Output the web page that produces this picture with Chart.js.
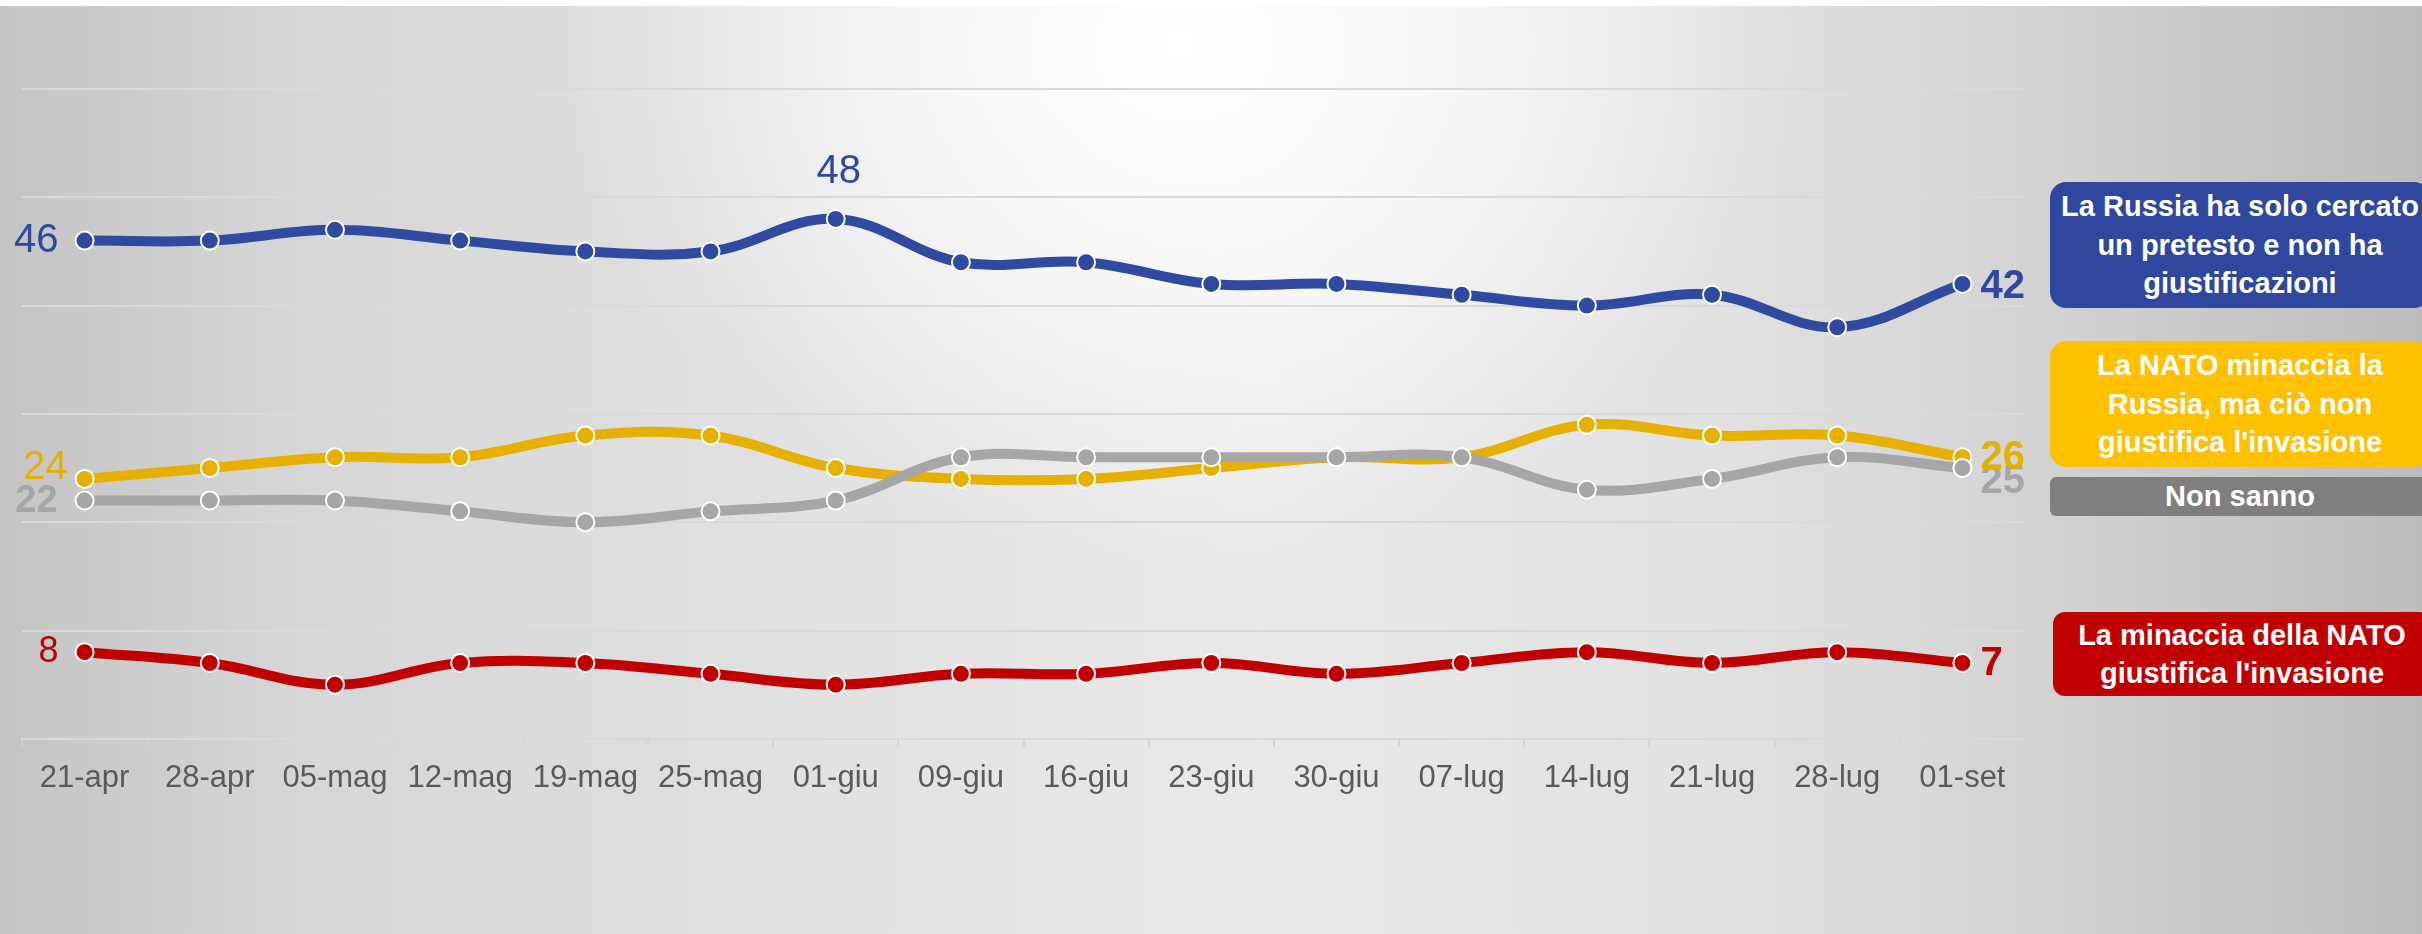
<!DOCTYPE html>
<html lang="it">
<head>
<meta charset="utf-8">
<title>Giustificazione dell'invasione</title>
<script src="https://cdn.jsdelivr.net/npm/chart.js@4.4.1/dist/chart.umd.min.js"></script>
<style>
  html, body { margin: 0; padding: 0; background: #ffffff; overflow: hidden; }
  #sfondo {
    position: absolute; left: 0; top: 6px; width: 2422px; height: 928px;
    background:
      radial-gradient(ellipse 620px 520px at 1180px 40px, rgba(255,255,255,1) 0%, rgba(255,255,255,0.7) 40%, rgba(255,255,255,0) 100%),
      linear-gradient(to right, #c4c4c4 0%, #d6d6d6 12%, #e2e2e2 35%, #e9e9e9 52%, #e2e2e2 70%, #d2d2d2 85%, #bcbcbc 100%);
  }
  #contenitore { position: absolute; left: 0; top: 0; width: 2422px; height: 934px; }
  .legenda {
    position: absolute; left: 2050px; width: 380px;
    display: flex; align-items: center; justify-content: center; text-align: center;
    color: #ffffff; font-family: "Liberation Sans", Arial, sans-serif; font-weight: bold;
    font-size: 29px; line-height: 38.5px; border-radius: 16px;
  }
</style>
</head>
<body>
<div id="sfondo"></div>
<div id="contenitore"><canvas id="grafico"></canvas></div>

<div class="legenda" style="top:182px;height:126px;background:#2f479f;">La Russia ha solo cercato<br>un pretesto e non ha<br>giustificazioni</div>
<div class="legenda" style="top:341px;height:126px;background:#ffc000;">La NATO minaccia la<br>Russia, ma ciò non<br>giustifica l'invasione</div>
<div class="legenda" style="top:477px;height:39px;background:#7f7f7f;border-radius:6px;">Non sanno</div>
<div class="legenda" style="top:612px;height:84px;left:2053px;width:378px;background:#c00000;border-radius:12px;">La minaccia della NATO<br>giustifica l'invasione</div>

<script>
// Date delle rilevazioni
const categorie = ['21-apr', '28-apr', '05-mag', '12-mag', '19-mag', '25-mag', '01-giu', '09-giu',
    '16-giu', '23-giu', '30-giu', '07-lug', '14-lug', '21-lug', '28-lug', '01-set'];

// Valori delle serie (%)
const soloPretesto = [46, 46, 47, 46, 45, 45, 48, 44, 44, 42, 42, 41, 40, 41, 38, 42];
const natoNonGiustifica = [24, 25, 26, 26, 28, 28, 25, 24, 24, 25, 26, 26, 29, 28, 28, 26];
const nonSanno = [22, 22, 22, 21, 20, 21, 22, 26, 26, 26, 26, 26, 23, 24, 26, 25];
const natoGiustifica = [8, 7, 5, 7, 7, 6, 5, 6, 6, 7, 6, 7, 8, 7, 8, 7];

// Scala verticale
const yMin = 0;
const yMax = 60;
const yPasso = 10;

const font = '"Liberation Sans", Arial, sans-serif';

// Stile delle etichette di inizio/fine per ogni serie
const stileEtichette = {
    blu:    { colore: '#2f479f', primaDx: 26, primaDy: 0,   primaPeso: 'normal', primaSize: 40, ultimaDy: 3 },
    giallo: { colore: '#e5af00', primaDx: 17, primaDy: -11, primaPeso: 'normal', primaSize: 40, ultimaDy: 1 },
    grigio: { colore: '#a6a6a6', primaDx: 27, primaDy: 1,   primaPeso: 'bold',   primaSize: 38, ultimaDy: 14 },
    rosso:  { colore: '#c00000', primaDx: 26, primaDy: 0,   primaPeso: 'normal', primaSize: 36, ultimaDy: 1 }
};

function serie(label, dati, colore, chiave) {
    return {
        label: label,
        data: dati,
        chiave: chiave,
        borderColor: colore,
        backgroundColor: colore,
        borderWidth: 10,
        tension: 0.38,
        pointRadius: 9,
        pointHoverRadius: 9,
        pointBackgroundColor: colore,
        pointBorderColor: '#ffffff',
        pointBorderWidth: 2,
        fill: false
    };
}

// Plugin per disegnare i valori a sinistra, a destra e il massimo
const etichettePlugin = {
    id: 'etichette',
    afterDatasetsDraw(chart) {
        const ctx = chart.ctx;
        ctx.save();
        ctx.textBaseline = 'middle';
        chart.data.datasets.forEach((ds, i) => {
            const meta = chart.getDatasetMeta(i);
            const st = stileEtichette[ds.chiave];
            const n = ds.data.length;
            const primo = meta.data[0];
            const ultimo = meta.data[n - 1];

            ctx.fillStyle = st.colore;
            ctx.font = st.primaPeso + ' ' + st.primaSize + 'px ' + font;
            ctx.textAlign = 'right';
            ctx.fillText(String(ds.data[0]), primo.x - st.primaDx, primo.y + st.primaDy);

            ctx.font = 'bold 40px ' + font;
            ctx.textAlign = 'left';
            ctx.fillText(String(ds.data[n - 1]), ultimo.x + 18, ultimo.y + st.ultimaDy);

            if (ds.chiave === 'blu') {
                const max = Math.max(...ds.data);
                const idx = ds.data.indexOf(max);
                const p = meta.data[idx];
                ctx.font = 'normal 40px ' + font;
                ctx.textAlign = 'center';
                ctx.fillText(String(max), p.x + 3, p.y - 47);
            }
        });
        ctx.restore();
    }
};

const config = {
    type: 'line',
    data: {
        labels: categorie,
        datasets: [
            serie('La Russia ha solo cercato un pretesto e non ha giustificazioni', soloPretesto, '#2f4aa0', 'blu'),
            serie('Non sanno', nonSanno, '#a6a6a6', 'grigio'),
            serie("La NATO minaccia la Russia, ma ciò non giustifica l'invasione", natoNonGiustifica, '#e6b000', 'giallo'),
            serie("La minaccia della NATO giustifica l'invasione", natoGiustifica, '#c00000', 'rosso')
        ]
    },
    options: {
        responsive: true,
        maintainAspectRatio: false,
        animation: false,
        layout: {
            padding: { left: 22, right: 397, top: 89, bottom: 124 }
        },
        scales: {
            x: {
                offset: true,
                grid: {
                    offset: true,
                    drawOnChartArea: false,
                    drawTicks: true,
                    tickLength: 8,
                    color: '#d4d4d4',
                    lineWidth: 2
                },
                border: { color: '#d9d9d9', width: 2 },
                ticks: {
                    color: '#595959',
                    font: { family: font, size: 31 },
                    padding: 13,
                    maxRotation: 0,
                    autoSkip: false
                }
            },
            y: {
                min: yMin,
                max: yMax,
                ticks: { display: false, stepSize: yPasso },
                grid: { color: '#d9d9d9', lineWidth: 2, drawTicks: false },
                border: { display: false }
            }
        },
        plugins: {
            legend: { display: false },
            tooltip: { enabled: false }
        }
    },
    plugins: [etichettePlugin]
};

const ctx = document.getElementById('grafico').getContext('2d');
const grafico = new Chart(ctx, config);
</script>
</body>
</html>
